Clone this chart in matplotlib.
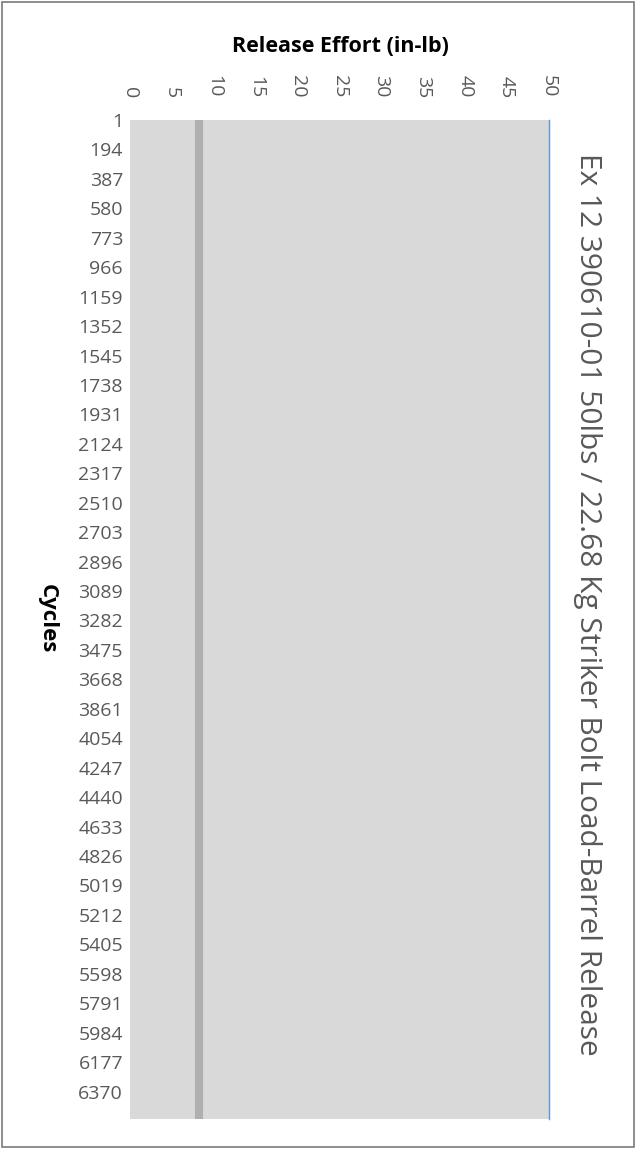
#!/usr/bin/env python3

import matplotlib
matplotlib.use('Agg')
import matplotlib.pyplot as plt
from matplotlib.patches import Rectangle

# cycle numbers shown on the category axis (plus the last cycle of the run)
cycles = [1, 194, 387, 580, 773, 966, 1159, 1352, 1545, 1738, 1931, 2124,
          2317, 2510, 2703, 2896, 3089, 3282, 3475, 3668, 3861, 4054, 4247,
          4440, 4633, 4826, 5019, 5212, 5405, 5598, 5791, 5984, 6177, 6370,
          6550]
# release effort (in-lb)
effort = [8.2, 8.2, 8.2, 8.2, 8.2, 8.2, 8.2, 8.2, 8.2, 8.2, 8.2, 8.2,
          8.2, 8.2, 8.2, 8.2, 8.2, 8.2, 8.2, 8.2, 8.2, 8.2, 8.2,
          8.2, 8.2, 8.2, 8.2, 8.2, 8.2, 8.2, 8.2, 8.2, 8.2, 8.2,
          8.2]
tick_cycles = cycles[:-1]
effort_ticks = [0, 5, 10, 15, 20, 25, 30, 35, 40, 45, 50]

title = 'Ex 12 390610-01 50lbs / 22.68 Kg Striker Bolt Load-Barrel Release'

plt.rcParams['font.family'] = ['Open Sans', 'DejaVu Sans']

W, H = 636, 1149
f = plt.figure(figsize=(W / 100, H / 100), dpi=100)
ax = f.add_axes([130 / W, 1 - 1119 / H, 419 / W, 999 / H])
ax.set_facecolor('#d9d9d9')

ax.plot(effort, cycles, color='#afafaf', linewidth=5.8, solid_capstyle='butt')

ax.set_xlim(0, 50)
ax.set_ylim(6550, 1)
ax.xaxis.tick_top()
ax.set_xticks(effort_ticks)
ax.set_xticklabels([str(t) for t in effort_ticks], rotation=-90, va='bottom',
                   ha='center', fontsize=14, color='#595959')
ax.set_yticks(tick_cycles)
ax.set_yticklabels([str(c) for c in tick_cycles], fontsize=14, color='#595959')
ax.tick_params(axis='x', length=0, pad=16)
ax.tick_params(axis='y', length=0, pad=5)

for s in ['top', 'left', 'bottom']:
    ax.spines[s].set_visible(False)
ax.spines['right'].set_color('#5b9bd5')
ax.spines['right'].set_linewidth(1.0)

f.text(340 / W, 1 - 47 / H, 'Release Effort (in-lb)', ha='center', va='center',
       fontsize=15.5, fontweight='bold', color='black')
f.text(47 / W, 1 - 619 / H, 'Cycles', ha='center', va='center', rotation=-90,
       fontsize=16, fontweight='bold', color='black')
f.text(587 / W, 1 - 604 / H, title, ha='center', va='center', rotation=-90,
       fontsize=21.5, color='#595959')

f.add_artist(Rectangle((2 / W, 2 / H), (W - 4) / W, (H - 4) / H,
                       transform=f.transFigure, fill=False,
                       edgecolor='#7a7a7a', linewidth=1.2))

f.savefig('out.png', dpi=100)
